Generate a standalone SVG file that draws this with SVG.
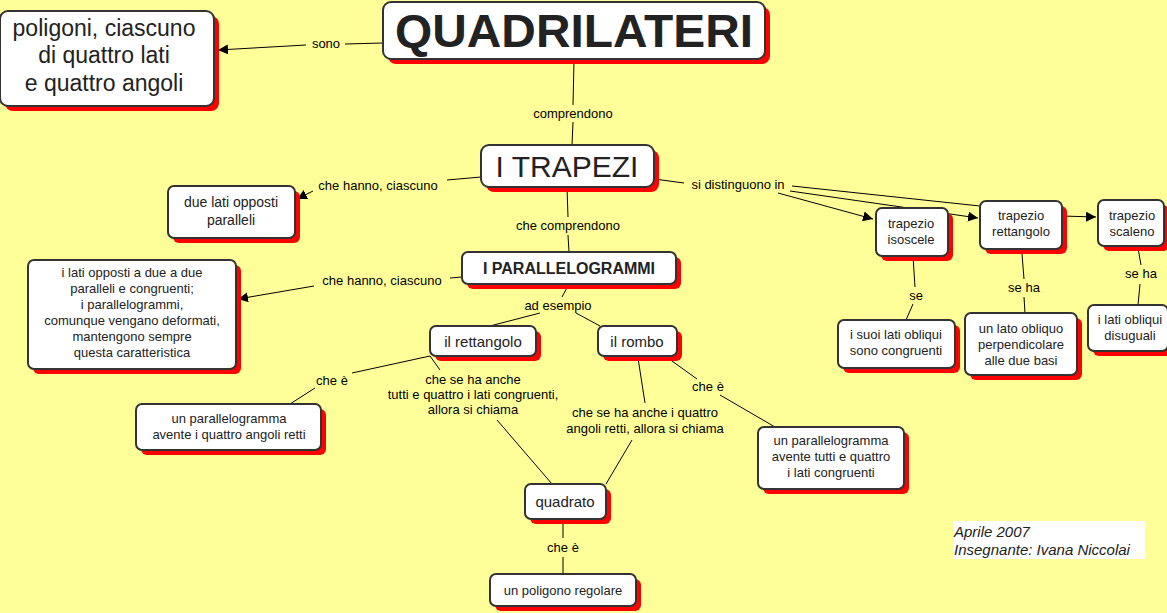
<svg xmlns="http://www.w3.org/2000/svg" width="1167" height="613" viewBox="0 0 1167 613">
<defs>
<marker id="ar" viewBox="0 0 10 10" refX="10" refY="5" markerWidth="10" markerHeight="10" markerUnits="userSpaceOnUse" orient="auto"><path d="M0,0 L10,5 L0,10 z" fill="#000"/></marker>
<style>
.sh{fill:#f00}
.bx{fill:#fff;stroke:#333;stroke-width:2}
text{font-family:"Liberation Sans",Arial,sans-serif;text-anchor:middle;fill:#222}
.t{font-size:13px}
.l{font-size:13px;fill:#000}
.c line,.c polyline{stroke:#000;stroke-width:1;fill:none}
</style>
</defs>
<rect width="1167" height="613" fill="#ffff99"/>
<g class="c">
<line x1="383" y1="43" x2="345" y2="44"/><line x1="306" y1="45" x2="218" y2="50" marker-end="url(#ar)"/>
<line x1="574" y1="60" x2="573" y2="105"/><line x1="573" y1="122" x2="572" y2="145"/>
<line x1="481" y1="177" x2="447" y2="180"/><line x1="313" y1="191" x2="297" y2="199" marker-end="url(#ar)"/>
<line x1="654" y1="179" x2="684" y2="183"/>
<line x1="778" y1="193" x2="873" y2="219" marker-end="url(#ar)"/>
<line x1="790" y1="191" x2="978" y2="218" marker-end="url(#ar)"/>
<line x1="792" y1="186" x2="980" y2="206"/>
<line x1="1062" y1="216" x2="1096" y2="217" marker-end="url(#ar)"/>
<line x1="567" y1="187" x2="568" y2="217"/><line x1="568" y1="235" x2="569" y2="252"/>
<line x1="462" y1="277" x2="450" y2="278"/><line x1="314" y1="286" x2="238" y2="299" marker-end="url(#ar)"/>
<line x1="569" y1="284" x2="562" y2="297"/>
<line x1="540" y1="313" x2="490" y2="326"/><line x1="576" y1="313" x2="600" y2="326"/>
<line x1="430" y1="356" x2="352" y2="373"/><line x1="315" y1="388" x2="290" y2="404"/>
<line x1="430" y1="356" x2="440" y2="370"/>
<line x1="497" y1="420" x2="552" y2="484"/>
<line x1="665" y1="356" x2="697" y2="379"/><line x1="720" y1="395" x2="775" y2="427"/>
<line x1="638" y1="358" x2="645" y2="403"/><line x1="632" y1="440" x2="606" y2="484"/>
<line x1="563" y1="520" x2="563" y2="538"/><line x1="563" y1="557" x2="563" y2="574"/>
<line x1="913" y1="256" x2="915" y2="287"/><line x1="913" y1="304" x2="906" y2="320"/>
<line x1="1022" y1="254" x2="1024" y2="279"/><line x1="1024" y1="297" x2="1025" y2="313"/>
<line x1="1138" y1="248" x2="1141" y2="265"/><line x1="1140" y1="284" x2="1138" y2="305"/>
</g>
<g class="l">
<text x="326" y="48" class="l">sono</text>
<text x="573" y="118" class="l">comprendono</text>
<text x="378" y="190" class="l">che hanno, ciascuno</text>
<text x="738" y="189" class="l">si distinguono in</text>
<text x="568" y="230" class="l">che comprendono</text>
<text x="382" y="285" class="l">che hanno, ciascuno</text>
<text x="558" y="310" class="l">ad esempio</text>
<text x="332" y="385" class="l">che è</text>
<text x="473" y="384" class="l">che se ha anche</text>
<text x="473" y="399" class="l">tutti e quattro i lati congruenti,</text>
<text x="473" y="414" class="l">allora si chiama</text>
<text x="708" y="391" class="l">che è</text>
<text x="645" y="417" class="l">che se ha anche i quattro</text>
<text x="645" y="433" class="l">angoli retti, allora si chiama</text>
<text x="563" y="552" class="l">che è</text>
<text x="916" y="300" class="l">se</text>
<text x="1024" y="292" class="l">se ha</text>
<text x="1141" y="278" class="l">se ha</text>
</g>
<g id="n-poligoni"><rect class="sh" x="5" y="16" width="214" height="95" rx="8"/><rect class="bx" x="0" y="11" width="214" height="95" rx="8"/>
<text x="104" y="36" font-size="23">poligoni, ciascuno</text><text x="104" y="63" font-size="23">di quattro lati</text><text x="104" y="91" font-size="23">e quattro angoli</text></g>
<g id="n-quad"><rect class="sh" x="388" y="7" width="382" height="57" rx="8"/><rect class="bx" x="383" y="2" width="382" height="57" rx="8" stroke="#000"/>
<text x="574" y="47" font-size="46" font-weight="bold" fill="#000" textLength="358" lengthAdjust="spacingAndGlyphs">QUADRILATERI</text></g>
<g id="n-trapezi"><rect class="sh" x="486" y="150" width="173" height="42" rx="8"/><rect class="bx" x="481" y="145" width="173" height="42" rx="8"/>
<text x="567" y="177" font-size="30" fill="#000">I TRAPEZI</text></g>
<g id="n-duelati"><rect class="sh" x="173" y="191" width="127" height="52" rx="6"/><rect class="bx" x="168" y="186" width="127" height="52" rx="6"/>
<text x="231" y="207" font-size="14">due lati opposti</text><text x="231" y="225" font-size="14">paralleli</text></g>
<g id="n-par"><rect class="sh" x="467" y="257" width="214" height="32" rx="6"/><rect class="bx" x="462" y="252" width="214" height="32" rx="6"/>
<text x="569" y="274" font-size="16" font-weight="bold" fill="#000">I PARALLELOGRAMMI</text></g>
<g id="n-latiopp"><rect class="sh" x="33" y="265" width="208" height="109" rx="6"/><rect class="bx" x="28" y="260" width="208" height="109" rx="6"/>
<text x="132" y="277" class="t">i lati opposti a due a due</text><text x="132" y="293" class="t">paralleli e congruenti;</text><text x="132" y="309" class="t">i parallelogrammi,</text><text x="132" y="325" class="t">comunque vengano deformati,</text><text x="132" y="341" class="t">mantengono sempre</text><text x="132" y="357" class="t">questa caratteristica</text></g>
<g id="n-rett"><rect class="sh" x="435" y="331" width="106" height="30" rx="6"/><rect class="bx" x="430" y="326" width="106" height="30" rx="6"/>
<text x="483" y="347" font-size="15">il rettangolo</text></g>
<g id="n-rombo"><rect class="sh" x="603" y="331" width="79" height="30" rx="6"/><rect class="bx" x="598" y="326" width="79" height="30" rx="6"/>
<text x="637" y="347" font-size="15">il rombo</text></g>
<g id="n-parret"><rect class="sh" x="141" y="409" width="185" height="46" rx="6"/><rect class="bx" x="136" y="404" width="185" height="46" rx="6"/>
<text x="229" y="423" class="t">un parallelogramma</text><text x="229" y="439" class="t">avente i quattro angoli retti</text></g>
<g id="n-parrombo"><rect class="sh" x="763" y="432" width="146" height="62" rx="6"/><rect class="bx" x="758" y="427" width="146" height="62" rx="6"/>
<text x="831" y="445" class="t">un parallelogramma</text><text x="831" y="461" class="t">avente tutti e quattro</text><text x="831" y="477" class="t">i lati congruenti</text></g>
<g id="n-quadrato"><rect class="sh" x="530" y="489" width="81" height="35" rx="6"/><rect class="bx" x="525" y="484" width="81" height="35" rx="6"/>
<text x="565" y="507" font-size="15">quadrato</text></g>
<g id="n-poligono"><rect class="sh" x="495" y="579" width="146" height="32" rx="6"/><rect class="bx" x="490" y="574" width="146" height="32" rx="6"/>
<text x="563" y="595" class="t">un poligono regolare</text></g>
<g id="n-iso"><rect class="sh" x="881" y="213" width="72" height="48" rx="6"/><rect class="bx" x="876" y="208" width="72" height="48" rx="6"/>
<text x="911" y="228" class="t">trapezio</text><text x="911" y="244" class="t">isoscele</text></g>
<g id="n-trett"><rect class="sh" x="985" y="206" width="82" height="48" rx="6"/><rect class="bx" x="980" y="201" width="82" height="48" rx="6"/>
<text x="1021" y="220" class="t">trapezio</text><text x="1021" y="236" class="t">rettangolo</text></g>
<g id="n-scal"><rect class="sh" x="1103" y="205" width="66" height="46" rx="6"/><rect class="bx" x="1098" y="200" width="66" height="46" rx="6"/>
<text x="1132" y="220" class="t">trapezio</text><text x="1132" y="236" class="t">scaleno</text></g>
<g id="n-suoi"><rect class="sh" x="843" y="325" width="117" height="48" rx="6"/><rect class="bx" x="838" y="320" width="117" height="48" rx="6"/>
<text x="896" y="339" class="t">i suoi lati obliqui</text><text x="896" y="355" class="t">sono congruenti</text></g>
<g id="n-latoobl"><rect class="sh" x="970" y="318" width="112" height="62" rx="6"/><rect class="bx" x="965" y="313" width="112" height="62" rx="6"/>
<text x="1021" y="333" class="t">un lato obliquo</text><text x="1021" y="349" class="t">perpendicolare</text><text x="1021" y="365" class="t">alle due basi</text></g>
<g id="n-disug"><rect class="sh" x="1093" y="310" width="80" height="46" rx="6"/><rect class="bx" x="1088" y="305" width="80" height="46" rx="6"/>
<text x="1130" y="324" class="t">i lati obliqui</text><text x="1130" y="340" class="t">disuguali</text></g>
<g id="footer"><rect x="953" y="521" width="192" height="38" fill="#fff"/>
<text x="954" y="537" font-size="15" font-style="italic" style="text-anchor:start" fill="#000">Aprile 2007</text>
<text x="954" y="555" font-size="15" font-style="italic" style="text-anchor:start" fill="#000">Insegnante: Ivana Niccolai</text></g>
</svg>
